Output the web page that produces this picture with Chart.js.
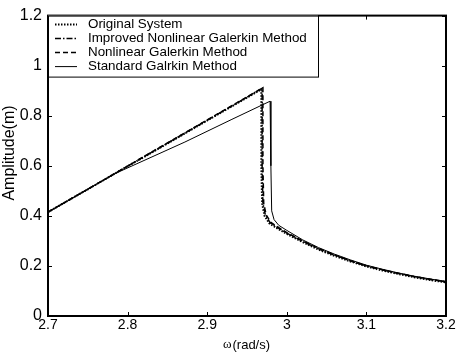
<!DOCTYPE html>
<html>
<head>
<meta charset="utf-8">
<script src="https://cdn.jsdelivr.net/npm/chart.js@4.4.1/dist/chart.umd.min.js"></script>
<style>
  html, body { margin: 0; padding: 0; background: #fff; }
  #wrap { width: 457px; height: 355px; position: relative; }
</style>
</head>
<body>
<div id="wrap"><canvas id="ampChart"></canvas></div>
<script>
// ---- data ----
const X_TICKS = [2.7, 2.8, 2.9, 3.0, 3.1, 3.2];
const Y_TICKS = [0, 0.2, 0.4, 0.6, 0.8, 1.0, 1.2];

const SERIES_NAMES = ['Original System', 'Improved Nonlinear Galerkin Method', 'Nonlinear Galerkin Method', 'Standard Galrkin Method'];

// Original System (dotted)
const omegaOrig = [2.70, 2.75, 2.80, 2.85, 2.90, 2.95, 2.968, 2.968, 2.969, 2.972, 2.978, 2.988, 3.00, 3.02, 3.04, 3.06, 3.08, 3.10, 3.12, 3.14, 3.16, 3.18, 3.20];
const ampOrig   = [0.415, 0.506, 0.598, 0.689, 0.781, 0.872, 0.905, 0.60, 0.45, 0.40, 0.37, 0.35, 0.328, 0.295, 0.265, 0.240, 0.218, 0.198, 0.182, 0.168, 0.155, 0.144, 0.134];

// Improved Nonlinear Galerkin (dash-dot)
const omegaImp = [2.70, 2.75, 2.80, 2.85, 2.90, 2.95, 2.969, 2.969, 2.970, 2.973, 2.979, 2.989, 3.00, 3.02, 3.04, 3.06, 3.08, 3.10, 3.12, 3.14, 3.16, 3.18, 3.20];
const ampImp   = [0.415, 0.507, 0.599, 0.690, 0.782, 0.874, 0.910, 0.60, 0.45, 0.405, 0.373, 0.352, 0.331, 0.298, 0.268, 0.243, 0.220, 0.200, 0.184, 0.170, 0.157, 0.146, 0.136];

// Nonlinear Galerkin (dashed)
const omegaNon = [2.70, 2.75, 2.80, 2.85, 2.90, 2.95, 2.970, 2.970, 2.971, 2.974, 2.980, 2.990, 3.00, 3.02, 3.04, 3.06, 3.08, 3.10, 3.12, 3.14, 3.16, 3.18, 3.20];
const ampNon   = [0.415, 0.507, 0.599, 0.691, 0.783, 0.875, 0.912, 0.60, 0.45, 0.405, 0.374, 0.353, 0.333, 0.300, 0.270, 0.244, 0.221, 0.201, 0.185, 0.171, 0.158, 0.147, 0.137];

// Standard Galerkin (solid)
const omegaStd = [2.70, 2.785, 2.872, 2.93, 2.979, 2.980, 2.981, 2.984, 2.990, 3.00, 3.02, 3.04, 3.06, 3.08, 3.10, 3.12, 3.14, 3.16, 3.18, 3.20];
const ampStd   = [0.415, 0.570, 0.695, 0.784, 0.858, 0.60, 0.42, 0.385, 0.362, 0.342, 0.304, 0.273, 0.247, 0.224, 0.203, 0.187, 0.172, 0.159, 0.148, 0.138];

// ---- helpers ----
function toPoints(xs, ys) {
    return xs.map((x, i) => ({ x: x, y: ys[i] }));
}
function fmt(v) {
    return String(parseFloat(v.toFixed(1)));
}

const styles = [
    { dash: [1.5, 1.5], width: 2 },
    { dash: [6, 2, 1.5, 2], width: 1.5 },
    { dash: [5, 3], width: 1.5 },
    { dash: [], width: 1 }
];
const seriesData = [
    toPoints(omegaOrig, ampOrig),
    toPoints(omegaImp, ampImp),
    toPoints(omegaNon, ampNon),
    toPoints(omegaStd, ampStd)
];

const datasets = SERIES_NAMES.map((name, i) => ({
    label: name,
    data: seriesData[i],
    borderColor: '#000',
    backgroundColor: '#000',
    borderWidth: styles[i].width,
    borderDash: styles[i].dash,
    pointRadius: 0,
    fill: false,
    tension: 0
}));

const SANS = '"Liberation Sans", Arial, sans-serif';
const SERIF = '"Liberation Serif", "Times New Roman", serif';

// ---- matlab-like frame, inward ticks, axis titles, legend box ----
const matlabFrame = {
    id: 'matlabFrame',
    afterDraw(chart) {
        const ctx = chart.ctx;
        const a = chart.chartArea;
        const xs = chart.scales.x, ys = chart.scales.y;
        ctx.save();
        ctx.strokeStyle = '#000';

        // ticks pointing inward on all sides
        ctx.lineWidth = 1;
        ctx.beginPath();
        X_TICKS.forEach(v => {
            const px = Math.round(xs.getPixelForValue(v)) + 0.5;
            ctx.moveTo(px, a.bottom); ctx.lineTo(px, a.bottom - 4);
            ctx.moveTo(px, a.top); ctx.lineTo(px, a.top + 4);
        });
        Y_TICKS.forEach(v => {
            const py = Math.round(ys.getPixelForValue(v)) + 0.5;
            ctx.moveTo(a.left, py); ctx.lineTo(a.left + 4, py);
            ctx.moveTo(a.right, py); ctx.lineTo(a.right - 4, py);
        });
        ctx.stroke();

        // box
        ctx.lineWidth = 2;
        ctx.strokeRect(a.left, a.top, a.right - a.left, a.bottom - a.top);

        // legend
        const lx = a.left, ly = a.top, lw = 270, lh = 61;
        ctx.fillStyle = '#fff';
        ctx.fillRect(lx, ly, lw, lh);
        ctx.lineWidth = 1;
        ctx.strokeRect(lx + 0.5, ly + 0.5, lw, lh);
        ctx.font = '13.4px ' + SANS;
        ctx.textBaseline = 'middle';
        ctx.textAlign = 'left';
        chart.data.datasets.forEach((ds, i) => {
            const yy = ly + 9 + i * 14;
            ctx.beginPath();
            ctx.setLineDash(ds.borderDash);
            ctx.lineWidth = ds.borderWidth;
            ctx.moveTo(lx + 7, yy); ctx.lineTo(lx + 29, yy);
            ctx.stroke();
            ctx.setLineDash([]);
            ctx.fillStyle = '#000';
            ctx.fillText(ds.label, lx + 40, yy);
        });

        // y title
        ctx.save();
        ctx.translate(10, 153);
        ctx.rotate(-Math.PI / 2);
        ctx.textAlign = 'center';
        ctx.font = '16px ' + SANS;
        ctx.fillText('Amplitude(m)', 0, 0);
        ctx.restore();

        // x title: serif omega + sans units
        const cx = (a.left + a.right) / 2 - 1, cy = 345;
        ctx.textAlign = 'left';
        ctx.font = '13px ' + SERIF;
        const w1 = ctx.measureText('ω').width;
        ctx.font = '13px ' + SANS;
        const w2 = ctx.measureText('(rad/s)').width;
        const sx = cx - (w1 + w2) / 2;
        ctx.font = '13px ' + SERIF;
        ctx.fillText('ω', sx, cy);
        ctx.font = '13px ' + SANS;
        ctx.fillText('(rad/s)', sx + w1 + 1, cy);

        ctx.restore();
    }
};

new Chart(document.getElementById('ampChart'), {
    type: 'line',
    data: { datasets: datasets },
    options: {
        responsive: true,
        maintainAspectRatio: false,
        animation: false,
        layout: { padding: { top: 14, right: 11, left: 0, bottom: 0 } },
        plugins: {
            legend: { display: false },
            tooltip: { enabled: false }
        },
        scales: {
            x: {
                type: 'linear',
                min: 2.7,
                max: 3.2,
                afterFit: s => { s.height = 39; },
                afterBuildTicks: s => { s.ticks = X_TICKS.map(v => ({ value: v })); },
                grid: { display: false, drawTicks: false },
                border: { display: false },
                ticks: {
                    color: '#000',
                    padding: 1,
                    maxRotation: 0,
                    font: { family: SANS, size: 14 },
                    callback: v => fmt(v)
                }
            },
            y: {
                type: 'linear',
                min: 0,
                max: 1.2,
                afterFit: s => { s.width = 48; },
                afterBuildTicks: s => { s.ticks = Y_TICKS.map(v => ({ value: v })); },
                grid: { display: false, drawTicks: false },
                border: { display: false },
                ticks: {
                    color: '#000',
                    padding: 6,
                    font: { family: SANS, size: 16 },
                    callback: v => fmt(v)
                }
            }
        }
    },
    plugins: [matlabFrame]
});
</script>
</body>
</html>
